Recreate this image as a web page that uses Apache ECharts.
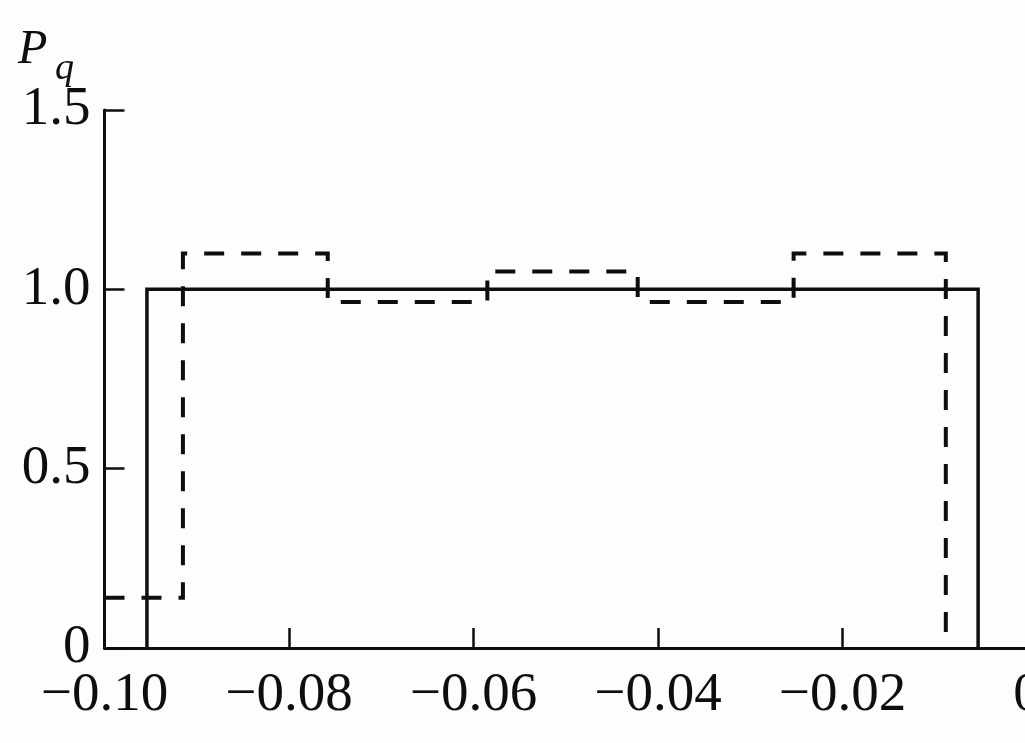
<!DOCTYPE html>
<html>
<head>
<meta charset="utf-8">
<script src="https://cdn.jsdelivr.net/npm/echarts@6/dist/echarts.min.js"></script>
<style>
html,body{margin:0;padding:0;background:#fdfdfc;}
#chart{width:1025px;height:743px;}
</style>
</head>
<body>
<div id="chart"></div>
<script>
// Tick labels
const xTicks = [-0.10, -0.08, -0.06, -0.04, -0.02, 0];
const yTicks = [0, 0.5, 1.0, 1.5];

// Solid histogram (bin edges and heights)
const solidEdges = [-0.0954, -0.0053];
const solidHeights = [1.0];

// Dashed histogram (bin edges and heights)
const dashedEdges = [-0.100, -0.0915, -0.0758, -0.0585, -0.0422, -0.0253, -0.0088];
const dashedHeights = [0.14, 1.10, 0.965, 1.05, 0.965, 1.10];

function stepPoints(edges, heights, startAtZero, endAtZero) {
  const pts = [];
  if (startAtZero) pts.push([edges[0], 0]);
  for (let i = 0; i < heights.length; i++) {
    pts.push([edges[i], heights[i]]);
    pts.push([edges[i + 1], heights[i]]);
  }
  if (endAtZero) pts.push([edges[edges.length - 1], 0]);
  return pts;
}

const serif = 'Liberation Serif';
const ink = '#0e0e0e';

const chart = echarts.init(document.getElementById('chart'), null, {renderer: 'canvas'});
chart.setOption({
  backgroundColor: '#fdfdfc',
  animation: false,
  graphic: [
    {
      type: 'text',
      left: 18,
      top: 26,
      style: {
        text: 'P',
        font: 'italic 48px "Liberation Serif"',
        fill: ink
      }
    },
    {
      type: 'text',
      left: 55,
      top: 50,
      style: {
        text: 'q',
        font: 'italic 38px "Liberation Serif"',
        fill: ink
      }
    }
  ],
  grid: {left: 104.5, right: -2, top: 110, bottom: 95, containLabel: false, outerBoundsMode: 'none'},
  xAxis: {
    type: 'value',
    min: xTicks[0],
    max: xTicks[xTicks.length - 1],
    interval: 0.02,
    axisLine: {show: true, onZero: false, lineStyle: {color: ink, width: 3}},
    axisTick: {show: true, inside: true, length: 20, lineStyle: {color: ink, width: 2.5}},
    splitLine: {show: false},
    axisLabel: {
      margin: 20,
      showMinLabel: true,
      showMaxLabel: true,
      fontFamily: serif,
      fontSize: 55,
      color: ink,
      formatter: function (v) {
        const r = Math.round(v * 100) / 100;
        if (r === 0) return '0';
        return (r < 0 ? '\u2212' : '') + Math.abs(r).toFixed(2);
      }
    }
  },
  yAxis: {
    type: 'value',
    min: yTicks[0],
    max: yTicks[yTicks.length - 1],
    interval: 0.5,
    axisLine: {show: true, onZero: false, lineStyle: {color: ink, width: 3}},
    axisTick: {show: true, inside: true, length: 20, lineStyle: {color: ink, width: 2.5}},
    splitLine: {show: false},
    axisLabel: {
      margin: 14,
      fontFamily: serif,
      fontSize: 55,
      color: ink,
      formatter: function (v) {
        if (v === 0) return '0';
        return v.toFixed(1);
      }
    }
  },
  series: [
    {
      type: 'line',
      data: stepPoints(solidEdges, solidHeights, true, true),
      symbol: 'none',
      lineStyle: {color: ink, width: 3.5, cap: 'butt', join: 'miter'}
    },
    {
      type: 'line',
      data: stepPoints(dashedEdges, dashedHeights, false, true),
      symbol: 'none',
      lineStyle: {color: ink, width: 4, type: [20, 17], cap: 'butt', join: 'miter'}
    }
  ]
});
</script>
</body>
</html>
